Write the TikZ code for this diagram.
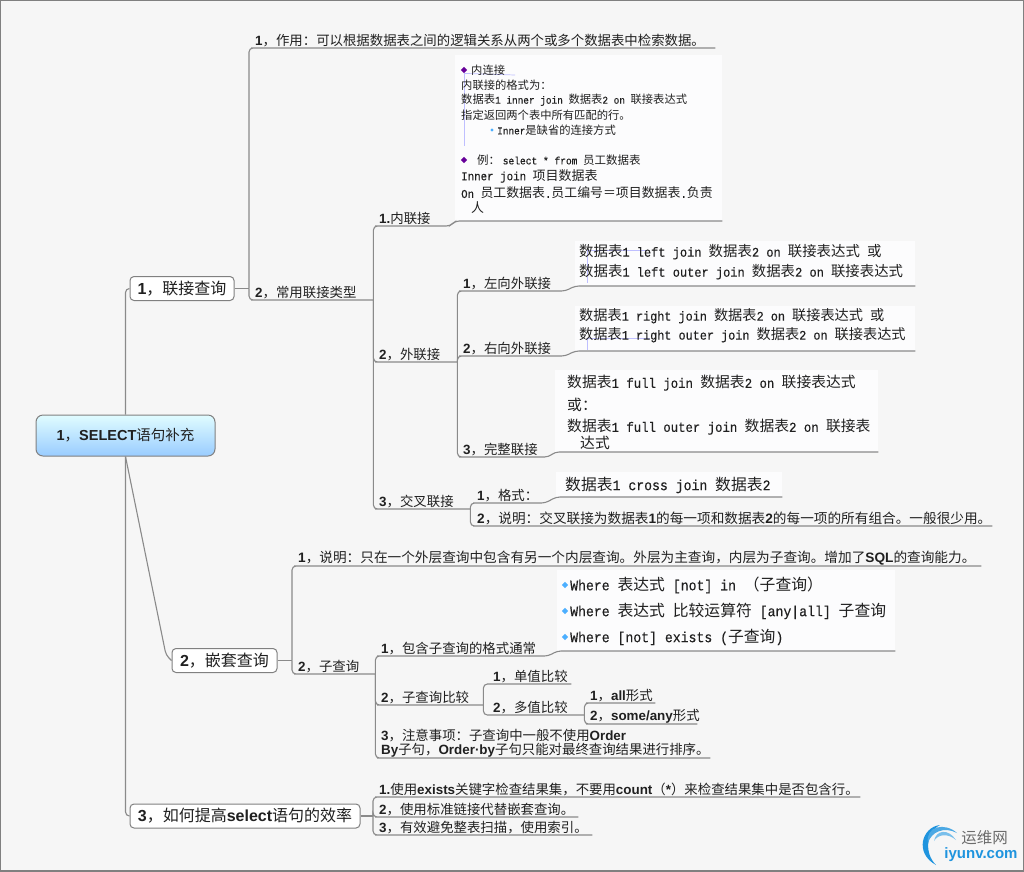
\documentclass[tikz,border=0pt]{standalone}
\usepackage{fontspec}
\setmainfont{Noto Sans CJK SC}
\newfontfamily\labelfont{Liberation Sans}
\newfontfamily\codefont[Scale=0.92,FakeStretch=0.905,FakeBold=0.3]{Liberation Mono}
\newcommand{\lat}[1]{{\labelfont\bfseries #1}}
\newcommand{\mo}[1]{{\codefont #1}}
\usetikzlibrary{shapes.geometric}
\definecolor{wirec}{HTML}{8A8A8A}
\definecolor{paper}{HTML}{F6F6F6}
\definecolor{sheet}{HTML}{FCFCFD}
\definecolor{ink}{HTML}{202020}
\definecolor{logoblue}{HTML}{1F94DE}

\begin{document}
\begin{tikzpicture}[x=1pt, y=-1pt, text=ink,
                    wire/.style = {draw = wirec, line width = 1.1pt, rounded corners = 4pt},
                    faint/.style = {draw = blue!25, line width = 0.7pt},
                    rootbox/.style = {draw = gray, line width = 1pt, rounded corners = 7pt, top color = blue!8!cyan!12!white, bottom color = {rgb,255:red,153;green,204;blue,255}, minimum width = 179pt, minimum height = 41pt, font = \fontsize{14.5}{16}\selectfont},
                    topic/.style = {draw = gray, line width = 1pt, fill = white, rounded corners = 4pt, minimum height = 24pt, inner xsep = 0pt, minimum width = #1, font = \fontsize{16}{18}\selectfont},
                    leaf/.style = {anchor = south west, text width = #1, align = left, inner xsep = 0pt, inner ysep = 1pt, font = \fontsize{13.4}{14}\selectfont},
                    wide/.style = {font = \fontsize{13.65}{14}\selectfont},
                    panel/.style = {anchor = south west, fill = sheet, inner sep = 0pt},
                    cell/.style = {anchor = west, inner sep = 0pt, font = \fontsize{#1}{#1}\selectfont},
                    mark1/.style = {diamond, fill = violet!80!blue, inner sep = 1.6pt},
                    mark2/.style = {diamond, fill = blue!45!cyan!70!white, inner sep = #1}]
\useasboundingbox (0,0) rectangle (1024,871);
\draw[fill = paper, draw = gray, line width = 2pt] (0,0) rectangle (1024,871);

% centre and main topics
\node [rootbox] (root) at (125.5,435.5) {\lat{1}，\lat{SELECT}语句补充};
\node [topic=104pt] (lianjie) at (182,288.5) {\lat{1}，联接查询};
\node [topic=105pt] (qiantao) at (224.5,660.5) {\lat{2}，嵌套查询};
\node [topic=230pt] (xiaolv) at (245,816) {\lat{3}，如何提高\lat{select}语句的效率};
\coordinate (bendA) at (166,655);
\coordinate (hubL) at (249,288.5);
\coordinate (hubQ) at (292,660.5);
\coordinate (hubX) at (373,816);

\draw[wire] (root.north) |- (lianjie.west);
\draw[wire] (root.south) |- (xiaolv.west);
\draw[wire] (root.south) -- (bendA) -- (qiantao.west);

% first topic
\node [leaf=460pt] (zuoyong) at (255,48) {\lat{1}，作用：可以根据数据表之间的逻辑关系从两个或多个数据表中检索数据。};
\node [leaf=118pt] (changyong) at (255,300) {\lat{2}，常用联接类型};
\node [leaf=71pt] (neilian) at (379,226) {\lat{1.}内联接};
\node [leaf=78pt] (wailian) at (379,362) {\lat{2}，外联接};
\node [leaf=91pt] (jiaocha) at (379,509) {\lat{3}，交叉联接};
\node [leaf=102pt] (zuoxiang) at (463,291) {\lat{1}，左向外联接};
\node [leaf=102pt] (youxiang) at (463,356) {\lat{2}，右向外联接};
\node [leaf=85pt] (wanzheng) at (463,457) {\lat{3}，完整联接};
\node [leaf=68pt] (geshi) at (477,503) {\lat{1}，格式：};
\node [leaf=515pt, wide] (shuomingA) at (477,526) {\lat{2}，说明：交叉联接为数据表\lat{1}的每一项和数据表\lat{2}的每一项的所有组合。一般很少用。};

% panels of the first topic
\node [panel, minimum width = 267pt, minimum height = 166pt] (picN) at (455,221) {};
\node [panel, minimum width = 340pt, minimum height = 45pt] (picZ) at (575,286) {};
\node [panel, minimum width = 340pt, minimum height = 45pt] (picY) at (575,351) {};
\node [panel, minimum width = 323pt, minimum height = 82pt] (picW) at (555,452) {};
\node [panel, minimum width = 226pt, minimum height = 25pt] (picJ) at (556,497) {};

\draw[wire] (lianjie.east) -- (hubL);
\draw[wire] (hubL) |- (zuoyong.south west) -- (zuoyong.south east);
\draw[wire] (hubL) |- (changyong.south west) -- (changyong.south east);
\draw[wire] (changyong.south east) |- (neilian.south west) -- (neilian.south east) -- (picN.south west) -- (picN.south east);
\draw[wire] (changyong.south east) |- (wailian.south west) -- (wailian.south east);
\draw[wire] (changyong.south east) |- (jiaocha.south west) -- (jiaocha.south east);
\draw[wire] (wailian.south east) |- (zuoxiang.south west) -- (zuoxiang.south east) -- (picZ.south west) -- (picZ.south east);
\draw[wire] (wailian.south east) |- (youxiang.south west) -- (youxiang.south east) -- (picY.south west) -- (picY.south east);
\draw[wire] (wailian.south east) |- (wanzheng.south west) -- (wanzheng.south east) -- (picW.south west) -- (picW.south east);
\draw[wire] (jiaocha.south east) |- (geshi.south west) -- (geshi.south east) -- (picJ.south west) -- (picJ.south east);
\draw[wire] (jiaocha.south east) |- (shuomingA.south west) -- (shuomingA.south east);

% inner join text
\node [mark1] (bulN1) at (464,70) {};
\node [mark1] (bulN2) at (464,160) {};
\node [mark2=0.9pt] (bulN3) at (492,130) {};
\draw[faint] (bulN1) -- (464,146);
\draw[faint] (bulN1.south) -- (515,75);
\node [cell=11.3] (txtN1) at (471,70) {内连接};
\node [cell=11.3] (txtN2) at (461,85) {内联接的格式为：};
\node [cell=11.3] (txtN3) at (461,100) {数据表\mo{1 inner join }数据表\mo{2 on }联接表达式};
\node [cell=11.3] (txtN4) at (461,115) {指定返回两个表中所有匹配的行。};
\node [cell=11.3] (txtN5) at (497,130) {\mo{Inner}是缺省的连接方式};
\node [cell=11.5] (txtN6) at (477,160) {例： \mo{select * from }员工数据表};
\node [cell=13] (txtN7) at (461,176) {\mo{Inner join }项目数据表};
\node [cell=12.9] (txtN8) at (461,193) {\mo{On }员工数据表\mo{.}员工编号＝项目数据表\mo{.}负责};
\node [cell=12.9] (txtN9) at (471,208) {人};

% outer join text
\draw[faint] (647,250) -- (587,250) -- (587,283);
\draw[faint] (650,338) -- (587,338) -- (587,350);
\node [cell=14.4] (txtZ1) at (579,252) {数据表\mo{1 left join }数据表\mo{2 on }联接表达式\mo{ }或};
\node [cell=14.4] (txtZ2) at (579,272) {数据表\mo{1 left outer join }数据表\mo{2 on }联接表达式};
\node [cell=14.2] (txtY1) at (579,316) {数据表\mo{1 right join }数据表\mo{2 on }联接表达式\mo{ }或};
\node [cell=14.2] (txtY2) at (579,335) {数据表\mo{1 right outer join }数据表\mo{2 on }联接表达式};
\node [cell=14.8] (txtW1) at (567,383) {数据表\mo{1 full join }数据表\mo{2 on }联接表达式};
\node [cell=14.8] (txtW2) at (567,405) {或：};
\node [cell=14.8] (txtW3) at (567,427) {数据表\mo{1 full outer join }数据表\mo{2 on }联接表};
\node [cell=14.8] (txtW4) at (580,443) {达式};
\node [cell=15.8] (txtJ1) at (565,485) {数据表\mo{1 cross join }数据表\mo{2}};

% second topic
\node [leaf=683pt, wide] (shuomingB) at (298,566) {\lat{1}，说明：只在一个外层查询中包含有另一个内层查询。外层为主查询，内层为子查询。增加了\lat{SQL}的查询能力。};
\node [leaf=77pt] (ziquery) at (298,674) {\lat{2}，子查询};
\node [leaf=167pt] (baohan) at (381,656) {\lat{1}，包含子查询的格式通常};
\node [leaf=102pt] (bijiao) at (381,705) {\lat{2}，子查询比较};
\node [leaf=329pt] (zhuyi) at (381,758) {\lat{3}，注意事项：子查询中一般不使用\lat{Order}\\\lat{By}子句，\lat{Order·by}子句只能对最终查询结果进行排序。};
\node [leaf=78pt] (danzhi) at (493,684) {\lat{1}，单值比较};
\node [leaf=91pt] (duozhi) at (493,715) {\lat{2}，多值比较};
\node [leaf=65pt] (allxs) at (590,703) {\lat{1}，\lat{all}形式};
\node [leaf=107pt] (somexs) at (590,724) {\lat{2}，\lat{some/any}形式};

\node [panel, minimum width = 338pt, minimum height = 81pt] (picB) at (557,651) {};

\draw[wire] (qiantao.east) -- (hubQ);
\draw[wire] (hubQ) |- (shuomingB.south west) -- (shuomingB.south east);
\draw[wire] (hubQ) |- (ziquery.south west) -- (ziquery.south east);
\draw[wire] (ziquery.south east) |- (baohan.south west) -- (baohan.south east) -- (picB.south west) -- (picB.south east);
\draw[wire] (ziquery.south east) |- (bijiao.south west) -- (bijiao.south east);
\draw[wire] (ziquery.south east) |- (zhuyi.south west) -- (zhuyi.south east);
\draw[wire] (bijiao.south east) |- (danzhi.south west) -- (danzhi.south east);
\draw[wire] (bijiao.south east) |- (duozhi.south west) -- (duozhi.south east);
\draw[wire] (duozhi.south east) |- (allxs.south west) -- (allxs.south east);
\draw[wire] (duozhi.south east) |- (somexs.south west) -- (somexs.south east);

% where forms
\node [mark2=1.6pt] (bulB1) at (565,585) {};
\node [mark2=1.6pt] (bulB2) at (565,611) {};
\node [mark2=1.6pt] (bulB3) at (565,637) {};
\node [cell=15.8] (txtB1) at (570,585) {\mo{Where }表达式\mo{ [not] in }（子查询）};
\node [cell=15.8] (txtB2) at (570,611) {\mo{Where }表达式\mo{ }比较运算符\mo{ [any|all] }子查询};
\node [cell=15.8] (txtB3) at (570,637) {\mo{Where [not] exists (}子查询\mo{)}};

% third topic
\node [leaf=481pt] (gaoA) at (379,797) {\lat{1.}使用\lat{exists}关键字检查结果集，不要用\lat{count}（\lat{*}）来检查结果集中是否包含行。};
\node [leaf=199pt] (gaoB) at (379,817) {\lat{2}，使用标准链接代替嵌套查询。};
\node [leaf=213pt] (gaoC) at (379,835) {\lat{3}，有效避免整表扫描，使用索引。};

\draw[wire] (xiaolv.east) -- (hubX);
\draw[wire] (hubX) |- (gaoA.south west) -- (gaoA.south east);
\draw[wire] (hubX) |- (gaoB.south west) -- (gaoB.south east);
\draw[wire] (hubX) |- (gaoC.south west) -- (gaoC.south east);

% site mark
\fill[logoblue] (940,825) .. controls (922,827) and (914,853) .. (936,865) .. controls (924,853) and (926,832) .. (940,825);
\fill[logoblue!80] (957,833) .. controls (945,822) and (925,826) .. (928,843) .. controls (931,832) and (944,826) .. (957,833);
\fill[logoblue!60] (956,840) .. controls (948,828) and (936,830) .. (934,841) .. controls (938,834) and (948,833) .. (956,840);
\node [inner sep = 0pt, text = gray!85!black, font = \fontsize{15.5}{16}\selectfont] (yunwei) at (984.5,838) {运维网};
\node [inner sep = 0pt, text = logoblue, font = \fontsize{15}{16}\selectfont\labelfont\bfseries] (iyunv) at (981,855) {iyunv.com};
\end{tikzpicture}
\end{document}
